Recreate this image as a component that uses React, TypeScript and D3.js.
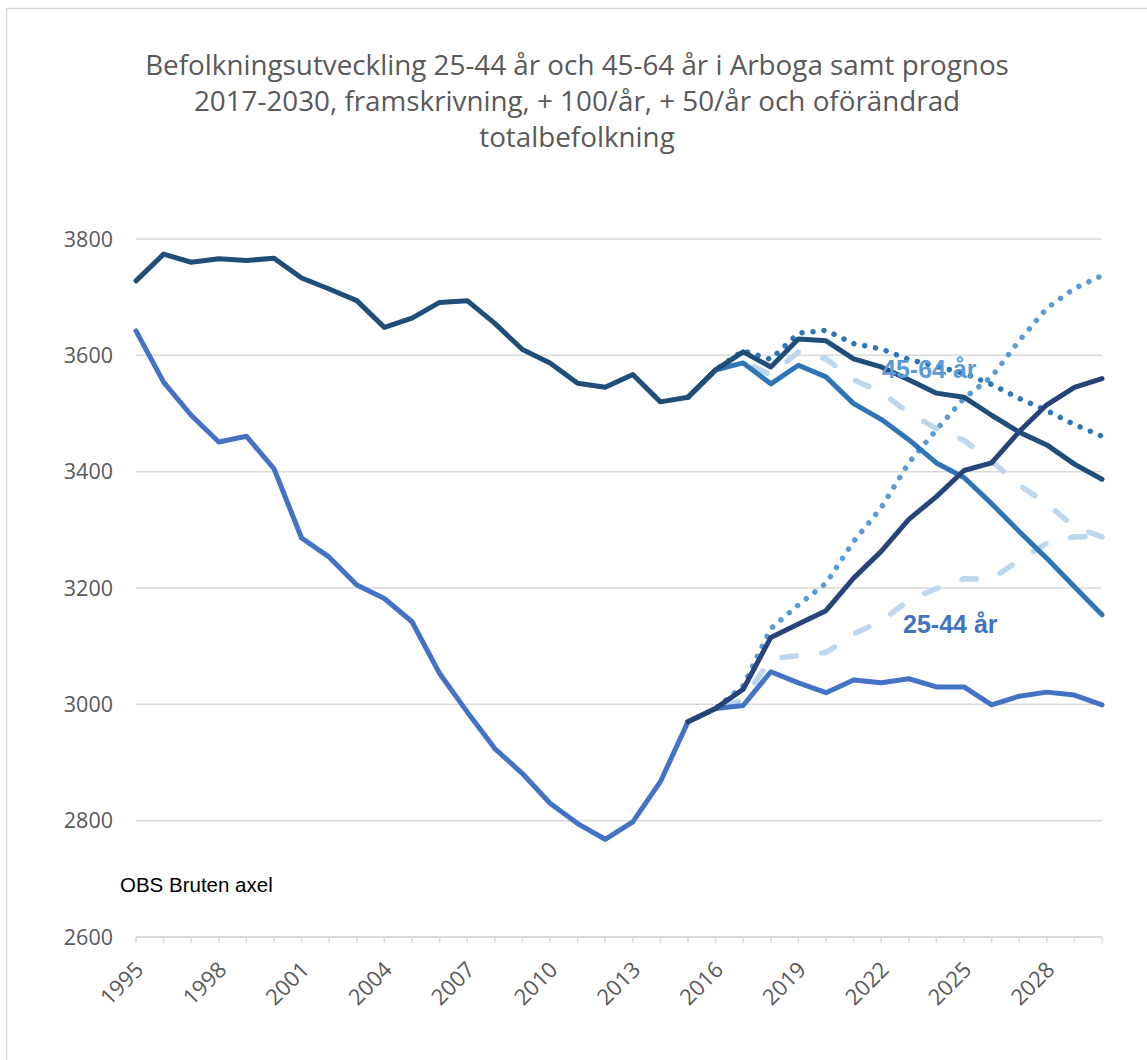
import React from "react";
import * as d3 from "d3";

const years = [1995,1996,1997,1998,1999,2000,2001,2002,2003,2004,2005,2006,2007,2008,2009,2010,2011,2012,2013,2014,2015,2016,2017,2018,2019,2020,2021,2022,2023,2024,2025,2026,2027,2028,2029,2030];
const histYears2544 = [1995,1996,1997,1998,1999,2000,2001,2002,2003,2004,2005,2006,2007,2008,2009,2010,2011,2012,2013,2014,2015];
const fcYears = [2015,2016,2017,2018,2019,2020,2021,2022,2023,2024,2025,2026,2027,2028,2029,2030];

const age4564 = [3728,3774,3760,3766,3763,3767,3733,3714,3694,3648,3664,3691,3694,3655,3610,3587,3552,3545,3567,3520,3528,3575,3606,3580,3628,3625,3594,3580,3558,3535,3528,3497,3468,3446,3413,3387];
const age2544 = [3642,3554,3497,3451,3461,3405,3286,3253,3205,3182,3142,3053,2987,2924,2881,2830,2795,2768,2798,2867,2970];

const f2544Flat = [2970,2993,2998,3056,3037,3020,3042,3037,3044,3030,3030,2999,3014,3021,3016,2999];
const f2544Plus100 = [2970,2993,3026,3115,3138,3161,3217,3263,3318,3357,3402,3415,3469,3515,3545,3560];
const f2544Dotted = [2970,2993,3032,3130,3171,3208,3280,3338,3415,3472,3526,3563,3625,3681,3715,3737];
const f2544Dashed = [2970,2993,3008,3078,3084,3089,3121,3143,3179,3199,3216,3215,3248,3277,3288,3288];

const f4564Medium = [3528,3575,3587,3551,3583,3563,3517,3490,3455,3415,3390,3345,3297,3251,3202,3154];
const f4564Dotted = [3528,3575,3608,3593,3638,3643,3620,3611,3593,3581,3569,3550,3526,3505,3481,3461];
const f4564Dashed = [3528,3575,3590,3566,3606,3594,3558,3537,3501,3474,3454,3418,3377,3345,3305,3288];

const yTicks = [2600,2800,3000,3200,3400,3600,3800];
const xLabelYears = [1995,1998,2001,2004,2007,2010,2013,2016,2019,2022,2025,2028];

const titleLines = [
  "Befolkningsutveckling 25-44 år och 45-64 år i Arboga samt prognos",
  "2017-2030, framskrivning, + 100/år, + 50/år och oförändrad",
  "totalbefolkning",
];

export default function App() {
  const x = d3.scaleLinear().domain([1995, 2030]).range([136, 1102]);
  const y = d3.scaleLinear().domain([2600, 3800]).range([937, 239]);
  const line = d3.line<[number, number]>().x((d) => x(d[0])).y((d) => y(d[1]));
  const mk = (xs: number[], vs: number[]) => line(xs.map((v, i) => [v, vs[i]]) as [number, number][]) || "";

  const series = [
    { d: mk(fcYears, f4564Dashed), c: "#BDD7EE", dash: "14.5 25.5", w: 5.5 },
    { d: mk(fcYears, f2544Dashed), c: "#BDD7EE", dash: "14.5 25.5", w: 5.5 },
    { d: mk(fcYears, f2544Dotted), c: "#5B9BD5", dash: "0.01 11", w: 5.5 },
    { d: mk(fcYears, f4564Dotted), c: "#2E75B6", dash: "0.01 11", w: 5.5 },
    { d: mk(fcYears, f4564Medium), c: "#2E75B6", dash: "", w: 5 },
    { d: mk(histYears2544, age2544), c: "#4472C4", dash: "", w: 5 },
    { d: mk(fcYears, f2544Flat), c: "#4472C4", dash: "", w: 5 },
    { d: mk(fcYears, f2544Plus100), c: "#264478", dash: "", w: 5 },
    { d: mk(years, age4564), c: "#1F4E79", dash: "", w: 5 },
  ];

  return (
    <svg width={1147} height={1060} style={{ position: "absolute", left: 0, top: 0, background: "#fff" }}>
      <rect x={6.5} y={8.5} width={1300} height={1200} fill="#fff" stroke="#D9D9D9" strokeWidth={1.5} />
      {titleLines.map((t, i) => (
        <text key={i} x={577} y={75 + i * 36} textAnchor="middle" fontFamily="'Open Sans', sans-serif" fontSize={27.8} fill="#595959">
          {t}
        </text>
      ))}
      {yTicks.filter((v) => v > 2600).map((v) => (
        <line key={v} x1={136} x2={1102} y1={y(v)} y2={y(v)} stroke="#D9D9D9" strokeWidth={1.5} />
      ))}
      <line x1={136} x2={1102} y1={y(2600)} y2={y(2600)} stroke="#D9D9D9" strokeWidth={2} />
      {years.map((yr) => (
        <line key={yr} x1={x(yr)} x2={x(yr)} y1={y(2600)} y2={y(2600) + 6} stroke="#D9D9D9" strokeWidth={1.5} />
      ))}
      {yTicks.map((v) => (
        <text key={v} x={113} y={y(v)} dy="0.35em" textAnchor="end" fontFamily="'Open Sans', sans-serif" fontSize={21.5} fill="#595959">
          {v}
        </text>
      ))}
      {xLabelYears.map((yr) => (
        <text key={yr} transform={`translate(${x(yr) + 9},${971}) rotate(-45)`} textAnchor="end" fontFamily="'Open Sans', sans-serif" fontSize={22} fill="#595959">
          {yr}
        </text>
      ))}
      <text x={120} y={892} fontFamily="'Liberation Sans', Arial, sans-serif" fontSize={20.5} fill="#000">OBS Bruten axel</text>
      {series.map((s, i) => (
        <path key={i} d={s.d} fill="none" stroke={s.c} strokeWidth={s.w} strokeDasharray={s.dash || undefined} strokeLinecap="round" strokeLinejoin="round" />
      ))}
      <text x={882} y={378} fontFamily="'Liberation Sans', Arial, sans-serif" fontWeight="bold" fontSize={25} fill="#5B9BD5">45-64 år</text>
      <text x={903} y={633} fontFamily="'Liberation Sans', Arial, sans-serif" fontWeight="bold" fontSize={25} fill="#4472C4">25-44 år</text>
    </svg>
  );
}
